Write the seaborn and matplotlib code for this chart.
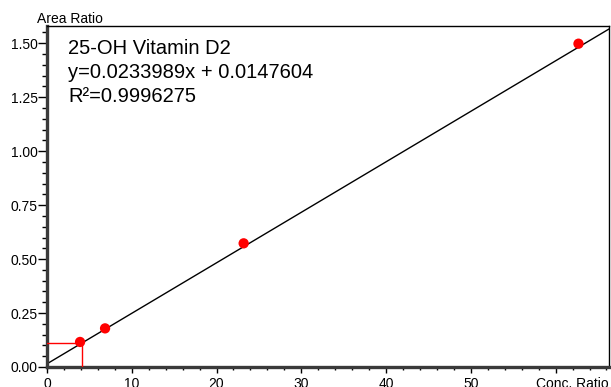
"""Calibration curve for 25-OH Vitamin D2 (area ratio vs concentration ratio)."""

import numpy as np
import pandas as pd
import matplotlib
matplotlib.use("Agg")
import matplotlib.pyplot as plt
from matplotlib.ticker import MultipleLocator, FormatStrFormatter
import seaborn as sns

# calibration points
conc_ratio = [3.9, 6.85, 23.2, 62.7]
area_ratio = [0.116, 0.179, 0.573, 1.498]

slope = 0.0233989
intercept = 0.0147604
r_squared = 0.9996275
compound = "25-OH Vitamin D2"

# sample marker (red crosshair)
sample_conc = 4.17

x_ticks = [0, 10, 20, 30, 40, 50, 60]
x_tick_labels = ["0", "10", "20", "30", "40", "50", ""]
y_ticks = [0.0, 0.25, 0.5, 0.75, 1.0, 1.25, 1.5]

x_max = 66.3
y_max = 1.58


def main():
    sns.set_style("ticks")
    plt.rcParams["font.family"] = ["Liberation Sans", "DejaVu Sans"]
    plt.rcParams["text.color"] = "black"

    fig = plt.figure(figsize=(6.11, 3.87), dpi=100)
    ax = fig.add_axes([47 / 611, 20 / 387, 562 / 611, 341 / 387])

    pts = pd.DataFrame({"conc": conc_ratio, "area": area_ratio})
    fit = pd.DataFrame({"conc": [0, x_max]})
    fit["area"] = slope * fit["conc"] + intercept

    sns.lineplot(data=fit, x="conc", y="area", color="black", lw=1.0, ax=ax)
    sample_area = slope * sample_conc + intercept
    ax.plot([0, sample_conc, sample_conc], [sample_area, sample_area, 0],
            color="#ff0000", lw=1.0, zorder=3)
    sns.scatterplot(data=pts, x="conc", y="area", color="#ff0000", s=55,
                    edgecolor="none", ax=ax, zorder=4)

    ax.set_xlim(0, x_max)
    ax.set_ylim(0, y_max)
    ax.set_xticks(x_ticks)
    ax.set_xticklabels(x_tick_labels)
    ax.set_yticks(y_ticks)
    ax.yaxis.set_major_formatter(FormatStrFormatter("%.2f"))
    ax.xaxis.set_minor_locator(MultipleLocator(2))
    ax.yaxis.set_minor_locator(MultipleLocator(0.05))
    ax.tick_params(which="both", width=1, color="black", labelcolor="black",
                   labelsize=10)
    ax.tick_params(axis="x", which="major", length=4, pad=3)
    ax.tick_params(axis="x", which="minor", length=2.2)
    ax.tick_params(axis="y", which="major", length=6.5, pad=0)
    ax.tick_params(axis="y", which="minor", length=3.5)
    ax.set_xlabel("")
    ax.set_ylabel("")

    for side in ["left", "bottom"]:
        ax.spines[side].set_linewidth(2.4)
        ax.spines[side].set_color("#3a3a3a")
    for side in ["top", "right"]:
        ax.spines[side].set_visible(True)
        ax.spines[side].set_linewidth(1.0)
        ax.spines[side].set_color("black")

    fig.text(37 / 611, 1 - 19 / 387, "Area Ratio", fontsize=10, va="center", ha="left")
    ax.text(1.0, -10 / 341, "Conc. Ratio", transform=ax.transAxes, fontsize=10,
            ha="right", va="top")

    ax.text(21 / 562, 1 - 22 / 341, compound, transform=ax.transAxes,
            fontsize=14.5, va="center", ha="left")
    ax.text(21 / 562, 1 - 46 / 341, f"y={slope}x + {intercept}",
            transform=ax.transAxes, fontsize=14.5, va="center", ha="left")
    ax.text(21 / 562, 1 - 70 / 341, f"R²={r_squared}",
            transform=ax.transAxes, fontsize=14.5, va="center", ha="left")

    fig.savefig("out.png", dpi=100)


if __name__ == "__main__":
    main()
